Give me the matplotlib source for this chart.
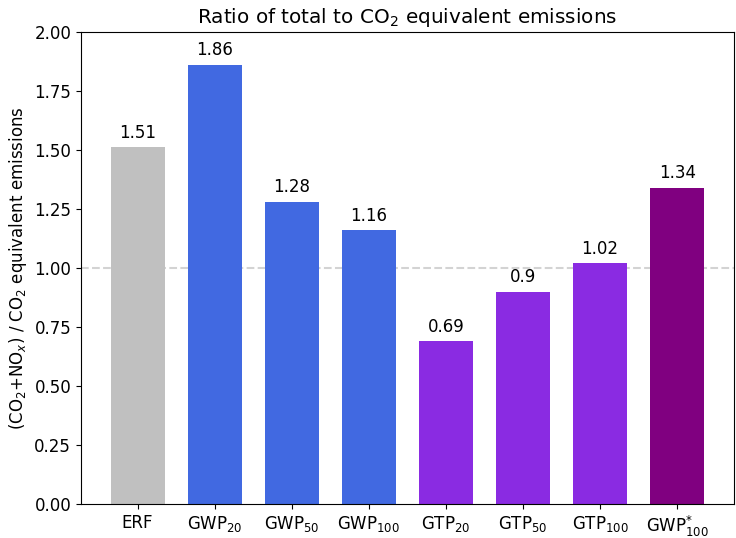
import numpy as np
import matplotlib.pyplot as plt

# metric labels, ratio values and bar colours
metrics = ['ERF', r'GWP$_{20}$', r'GWP$_{50}$', r'GWP$_{100}$',
           r'GTP$_{20}$', r'GTP$_{50}$', r'GTP$_{100}$', r'GWP$^{*}_{100}$']
ratios = [1.51, 1.86, 1.28, 1.16, 0.69, 0.9, 1.02, 1.34]
colors = ['silver', 'royalblue', 'royalblue', 'royalblue',
          'blueviolet', 'blueviolet', 'blueviolet', 'purple']

plt.rcParams['font.size'] = 12

fig, ax = plt.subplots(figsize=(7.36, 5.38), dpi=100)
fig.subplots_adjust(left=0.110, right=0.997, top=0.941, bottom=0.063)

x = np.arange(len(metrics))
bars = ax.bar(x, ratios, width=0.7, color=colors)
ax.axhline(1.0, color='lightgray', linestyle='--', linewidth=1.5, zorder=0)

for rect, val in zip(bars, ratios):
    ax.annotate(f'{val:g}', (rect.get_x() + rect.get_width() / 2, val),
                xytext=(0, 4), textcoords='offset points',
                ha='center', va='bottom')

ax.set_xticks(x)
ax.set_xticklabels(metrics)
ax.set_ylim(0, 2.0)
ax.set_yticks(np.arange(0, 2.01, 0.25))
ax.yaxis.set_major_formatter(plt.FormatStrFormatter('%.2f'))
ax.set_ylabel(r'(CO$_2$+NO$_x$) / CO$_2$ equivalent emissions')
ax.set_title(r'Ratio of total to CO$_2$ equivalent emissions')

fig.savefig('out.png')
